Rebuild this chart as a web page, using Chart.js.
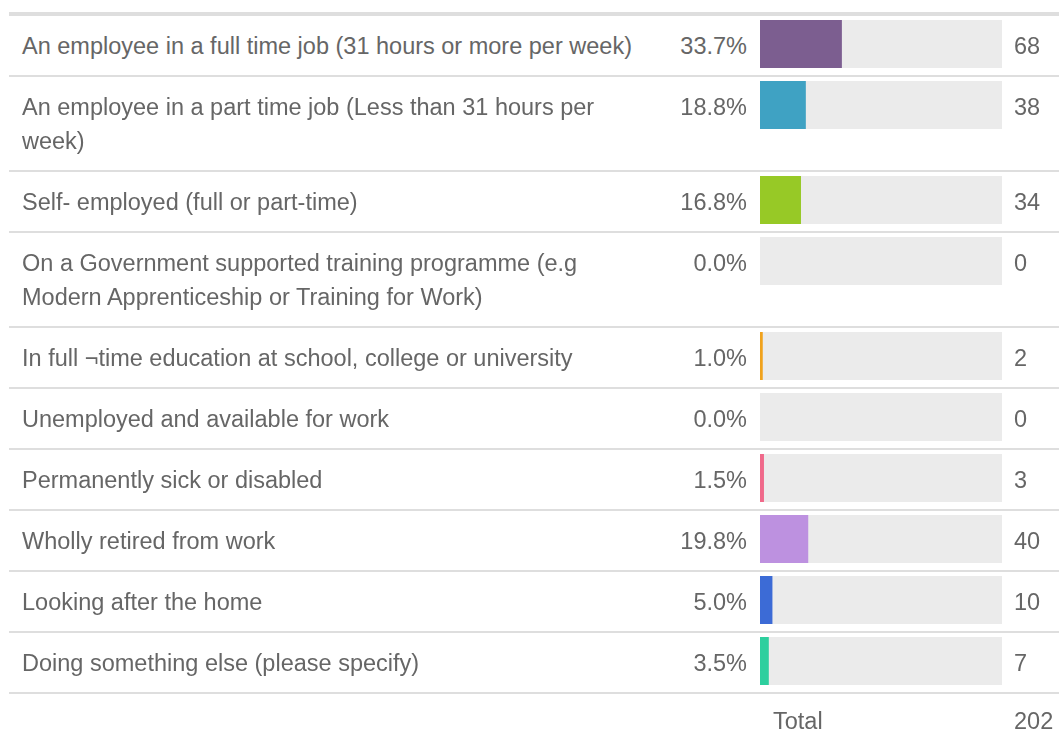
<!DOCTYPE html>
<html>
<head>
<meta charset="utf-8">
<script src="https://cdn.jsdelivr.net/npm/chart.js@4"></script>
<style>
  html, body { margin: 0; padding: 0; background: #fff; }
  body { width: 1059px; height: 735px; overflow: hidden; }
  table {
    position: absolute; left: 9px; top: 12px;
    width: 1050px; border-collapse: collapse; table-layout: fixed;
    font-family: 'Liberation Sans', Arial, sans-serif;
    font-size: 23.5px; color: #666;
    border-top: 4px solid #dedede;
  }
  td { vertical-align: top; padding: 0; line-height: 34px; }
  tr.row td { border-bottom: 2px solid #dedede; }
  td.label { padding: 13px 0 12px 13px; }
  td.pct { text-align: right; padding: 13px 13px 12px 0; }
  td.bar { padding-top: 4px; }
  td.count { padding: 13px 0 12px 12px; }
  canvas { display: block; background: #ebebeb; }
  tr.total td { padding-top: 10px; }
  tr.total td.bar { padding-left: 13px; }
</style>
</head>
<body>
<table id="tbl">
  <colgroup>
    <col style="width:640px">
    <col style="width:111px">
    <col style="width:242px">
    <col style="width:57px">
  </colgroup>
  <tbody id="rows"></tbody>
</table>
<script>
// Answer options and responses
const answers = [
  "An employee in a full time job (31 hours or more per week)",
  "An employee in a part time job (Less than 31 hours per week)",
  "Self- employed (full or part-time)",
  "On a Government supported training programme (e.g Modern Apprenticeship or Training for Work)",
  "In full \u00actime education at school, college or university",
  "Unemployed and available for work",
  "Permanently sick or disabled",
  "Wholly retired from work",
  "Looking after the home",
  "Doing something else (please specify)"
];
const percents = [33.7, 18.8, 16.8, 0.0, 1.0, 0.0, 1.5, 19.8, 5.0, 3.5];
const counts = [68, 38, 34, 0, 2, 0, 3, 40, 10, 7];
const total = 202;
const barColors = ['#7c5e90', '#3fa2c3', '#97c926', 'transparent', '#f0a21c', 'transparent', '#f0698a', '#bd91e0', '#3c6bd6', '#2dcf9e'];

const tbody = document.getElementById('rows');

answers.forEach((answer, i) => {
  const tr = document.createElement('tr');
  tr.className = 'row';

  const tdLabel = document.createElement('td');
  tdLabel.className = 'label';
  tdLabel.textContent = answer;

  const tdPct = document.createElement('td');
  tdPct.className = 'pct';
  tdPct.textContent = percents[i].toFixed(1) + '%';

  const tdBar = document.createElement('td');
  tdBar.className = 'bar';
  const canvas = document.createElement('canvas');
  canvas.width = 242;
  canvas.height = 48;
  canvas.style.width = '242px';
  canvas.style.height = '48px';
  tdBar.appendChild(canvas);

  const tdCount = document.createElement('td');
  tdCount.className = 'count';
  tdCount.textContent = counts[i];

  tr.append(tdLabel, tdPct, tdBar, tdCount);
  tbody.appendChild(tr);

  // one horizontal bar per answer, scaled 0-100%
  new Chart(canvas, {
    type: 'bar',
    data: {
      labels: [answer],
      datasets: [{
        data: [percents[i]],
        backgroundColor: barColors[i],
        borderWidth: 0,
        barPercentage: 1,
        categoryPercentage: 1
      }]
    },
    options: {
      indexAxis: 'y',
      responsive: false,
      animation: false,
      layout: { padding: 0 },
      scales: {
        x: { display: false, min: 0, max: 100 },
        y: { display: false }
      },
      plugins: {
        legend: { display: false },
        tooltip: { enabled: false }
      }
    }
  });
});

// Total row
const totalRow = document.createElement('tr');
totalRow.className = 'total';
totalRow.innerHTML = '<td></td><td></td><td class="bar">Total</td><td class="count">' + total + '</td>';
tbody.appendChild(totalRow);
</script>
</body>
</html>
